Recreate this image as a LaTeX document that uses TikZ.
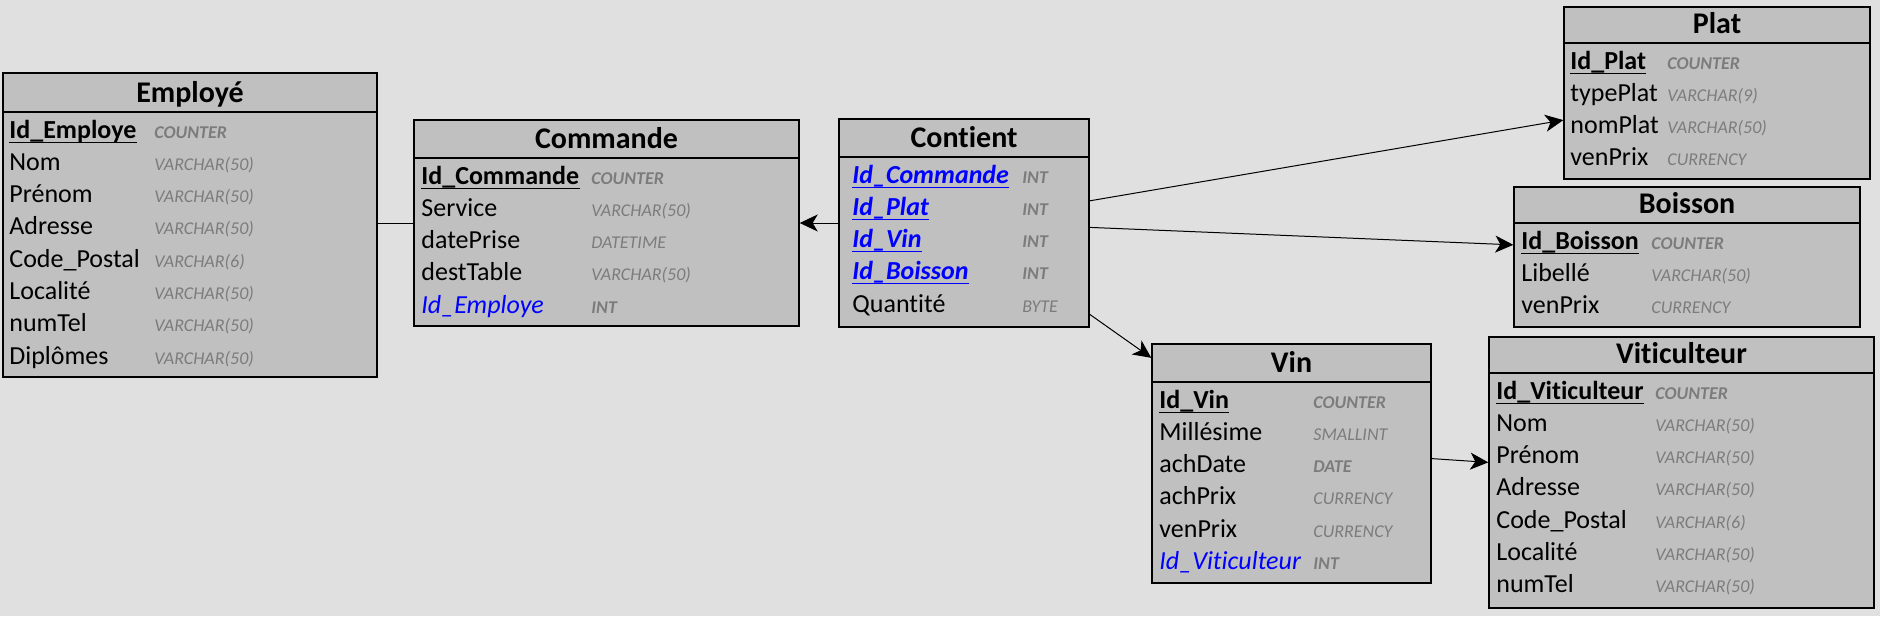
\documentclass[tikz,border=0pt]{standalone}
\usepackage{fontspec}
\setmainfont{Carlito}[Ligatures={NoCommon}]
\usetikzlibrary{arrows.meta, positioning, calc, fit}
\definecolor{bgcolor}{HTML}{E0E0E0}
\definecolor{boxcolor}{HTML}{C0C0C0}
\definecolor{typecolor}{HTML}{7C7C7C}
\definecolor{keycolor}{HTML}{0000FF}

\begin{document}
\begin{tikzpicture}[
    x=0.5pt, y=-0.5pt,
    tbl/.style={rectangle, draw=black, line width=0.7pt, fill=boxcolor, inner sep=0pt},
    hline/.style={line width=0.6pt},
    ttl/.style={anchor=base, inner sep=0pt, font=\fontsize{15}{18}\selectfont\bfseries},
    fld/.style={anchor=base west, inner sep=0pt, font=\fontsize{13}{15}\selectfont},
    pk/.style={fld, font=\fontsize{13}{15}\selectfont\bfseries,
        append after command={([yshift=-2pt]\tikzlastnode.base west) edge[line width=0.5pt] ([yshift=-2pt]\tikzlastnode.base east)}},
    pkfk/.style={fld, text=keycolor, font=\fontsize{13}{15}\selectfont\bfseries\itshape,
        append after command={([yshift=-2pt]\tikzlastnode.base west) edge[line width=0.5pt, draw=keycolor] ([yshift=-2pt]\tikzlastnode.base east)}},
    fk/.style={fld, text=keycolor, font=\fontsize{13}{15}\selectfont\itshape},
    ti/.style={anchor=base west, inner sep=0pt, text=typecolor, font=\fontsize{9}{11}\selectfont\itshape},
    tb/.style={ti, font=\fontsize{9}{11}\selectfont\bfseries\itshape},
    link/.style={line width=0.5pt},
    rel/.style={link, -{Stealth[length=9pt, width=8.5pt, inset=2.5pt]}}
]
\fill[bgcolor] (0,0) rectangle (1880,616);

% -- Employé --
\node[tbl, fit={(3,73) (377,377)}] (emp) {};
\draw[hline] (emp.west |- 0,112) -- (emp.east |- 0,112);
\node[ttl] (emp-ttl) at (emp.north |- 0,102) {Employé};
\foreach \s/\n/\u/\t [count=\i from 0] in {pk/Id\_Employe/tb/COUNTER, fld/Nom/ti/VARCHAR(50),
    fld/Prénom/ti/VARCHAR(50), fld/Adresse/ti/VARCHAR(50), fld/Code\_Postal/ti/VARCHAR(6),
    fld/Localité/ti/VARCHAR(50), fld/numTel/ti/VARCHAR(50), fld/Diplômes/ti/VARCHAR(50)}
  {\node[\s] (emp-n\i) at (9,{138+32.3*\i}) {\n};
   \node[\u] (emp-t\i) at (154,{138+32.3*\i}) {\t};}

% -- Commande --
\node[tbl, fit={(414,120) (799,326)}] (cmd) {};
\draw[hline] (cmd.west |- 0,158) -- (cmd.east |- 0,158);
\node[ttl] (cmd-ttl) at (cmd.north |- 0,148) {Commande};
\foreach \s/\n/\u/\t [count=\i from 0] in {pk/Id\_Commande/tb/COUNTER, fld/Service/ti/VARCHAR(50),
    fld/datePrise/ti/DATETIME, fld/destTable/ti/VARCHAR(50), fk/Id\_Employe/tb/INT}
  {\node[\s] (cmd-n\i) at (421,{184+32.3*\i}) {\n};
   \node[\u] (cmd-t\i) at (591,{184+32.3*\i}) {\t};}

% -- Contient --
\node[tbl, fit={(839,119) (1089,327)}] (cnt) {};
\draw[hline] (cnt.west |- 0,157) -- (cnt.east |- 0,157);
\node[ttl] (cnt-ttl) at (cnt.north |- 0,147) {Contient};
\foreach \s/\n/\u/\t [count=\i from 0] in {pkfk/Id\_Commande/tb/INT, pkfk/Id\_Plat/tb/INT,
    pkfk/Id\_Vin/tb/INT, pkfk/Id\_Boisson/tb/INT, fld/Quantité/ti/BYTE}
  {\node[\s] (cnt-n\i) at (852,{183+32.3*\i}) {\n};
   \node[\u] (cnt-t\i) at (1022,{183+32.3*\i}) {\t};}

% -- Plat --
\node[tbl, fit={(1564,7) (1870,179)}] (plat) {};
\draw[hline] (plat.west |- 0,43) -- (plat.east |- 0,43);
\node[ttl] (plat-ttl) at (plat.north |- 0,33) {Plat};
\foreach \s/\n/\u/\t [count=\i from 0] in {pk/Id\_Plat/tb/COUNTER, fld/typePlat/ti/VARCHAR(9),
    fld/nomPlat/ti/VARCHAR(50), fld/venPrix/ti/CURRENCY}
  {\node[\s] (plat-n\i) at (1570,{69+32.3*\i}) {\n};
   \node[\u] (plat-t\i) at (1667,{69+32.3*\i}) {\t};}

% -- Boisson --
\node[tbl, fit={(1514,187) (1860,327)}] (boi) {};
\draw[hline] (boi.west |- 0,223) -- (boi.east |- 0,223);
\node[ttl] (boi-ttl) at (boi.north |- 0,213) {Boisson};
\foreach \s/\n/\u/\t [count=\i from 0] in {pk/Id\_Boisson/tb/COUNTER, fld/Libellé/ti/VARCHAR(50),
    fld/venPrix/ti/CURRENCY}
  {\node[\s] (boi-n\i) at (1521,{249+32.3*\i}) {\n};
   \node[\u] (boi-t\i) at (1651,{249+32.3*\i}) {\t};}

% -- Vin --
\node[tbl, fit={(1152,344) (1431,583)}] (vin) {};
\draw[hline] (vin.west |- 0,382) -- (vin.east |- 0,382);
\node[ttl] (vin-ttl) at (vin.north |- 0,372) {Vin};
\foreach \s/\n/\u/\t [count=\i from 0] in {pk/Id\_Vin/tb/COUNTER, fld/Millésime/ti/SMALLINT,
    fld/achDate/tb/DATE, fld/achPrix/ti/CURRENCY, fld/venPrix/ti/CURRENCY, fk/Id\_Viticulteur/tb/INT}
  {\node[\s] (vin-n\i) at (1159,{408+32.3*\i}) {\n};
   \node[\u] (vin-t\i) at (1313,{408+32.3*\i}) {\t};}

% -- Viticulteur --
\node[tbl, fit={(1489,337) (1874,608)}] (vit) {};
\draw[hline] (vit.west |- 0,373) -- (vit.east |- 0,373);
\node[ttl] (vit-ttl) at (vit.north |- 0,363) {Viticulteur};
\foreach \s/\n/\u/\t [count=\i from 0] in {pk/Id\_Viticulteur/tb/COUNTER, fld/Nom/ti/VARCHAR(50),
    fld/Prénom/ti/VARCHAR(50), fld/Adresse/ti/VARCHAR(50), fld/Code\_Postal/ti/VARCHAR(6),
    fld/Localité/ti/VARCHAR(50), fld/numTel/ti/VARCHAR(50)}
  {\node[\s] (vit-n\i) at (1496,{399+32.3*\i}) {\n};
   \node[\u] (vit-t\i) at (1655,{399+32.3*\i}) {\t};}

% -- relations --
\draw[link] (cmd.west) -- (cmd.west -| emp.east);
\draw[rel] (cnt.west) -- (cmd.east);
\draw[rel] (cnt.10) -- (plat.190);
\draw[rel] (cnt.-2) -- (boi.176);
\draw[rel] (cnt.-36) -- (vin.143);
\draw[rel] (vin.2) -- (vit.177);

\end{tikzpicture}
\end{document}
